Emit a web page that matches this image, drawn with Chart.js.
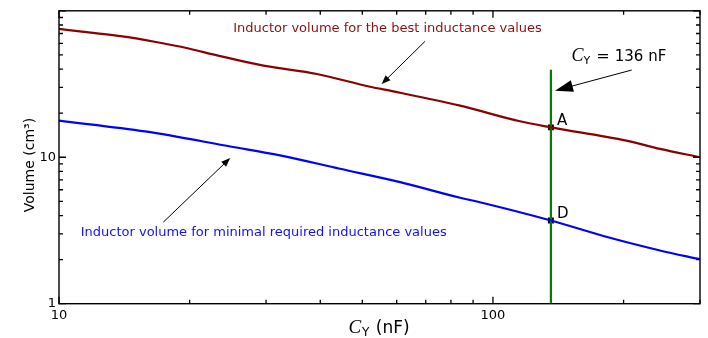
<!DOCTYPE html>
<html>
<head>
<meta charset="utf-8">
<script src="https://cdn.jsdelivr.net/npm/chart.js@4.4.1/dist/chart.umd.min.js"></script>
<style>
  html, body { margin: 0; padding: 0; background: #fff; }
  canvas { display: block; }
</style>
</head>
<body>
<canvas id="myChart" width="708" height="338"></canvas>
<script>
// C_Y in nF, volume in cm^3
const bestX = [10, 11.7, 14, 16.6, 19.9, 22.9, 29.6, 39.3, 52.1, 58.9, 84, 115.4, 136, 203, 242.6, 300];
const bestY = [75.2, 71.2, 66.8, 61.5, 55.3, 50.0, 42.2, 37.0, 30.3, 28.2, 22.5, 17.6, 16.0, 13.0, 11.4, 10.0];

const minX = [10, 15.8, 25, 32.3, 44.4, 61.1, 84, 93.3, 136, 186, 242.6, 300];
const minY = [17.8, 15.0, 11.8, 10.3, 8.34, 6.76, 5.29, 4.93, 3.70, 2.82, 2.31, 2.01];

const cyValue = 136;
const cyLineY = [1, 39.6];
const pointNames = ["A", "D"];
const pointY = [16.0, 3.70];

const xTickMarks = [10, 20, 30, 40, 50, 60, 70, 80, 90, 100, 200, 300];
const yTickMarks = [1, 2, 3, 4, 5, 6, 7, 8, 9, 10, 20, 30, 40, 50, 60, 70, 80, 90, 100];
const xTickLabels = [10, 100];
const yTickLabels = [1, 10];

const FONT = "DejaVu Sans";

// annotation anchors in data coordinates
const notes = {
    best: { text: "Inductor volume for the best inductance values", x: 25.2, y: 75.4, color: "#8b1010" },
    min: { text: "Inductor volume for minimal required inductance values", x: 11.22, y: 3.05, color: "#1010ff" },
    bestArrow: { from: [69.7, 61.8], to: [55.4, 31.6] },
    minArrow: { from: [17.4, 3.61], to: [24.8, 9.87] },
    cyArrow: { from: [208.8, 39.4], to: [139, 28.5] },
    cyText: { x: 151.8, y: 45.3 }
};

function arrow(ctx, x1, y1, x2, y2, len, half) {
    const a = Math.atan2(y2 - y1, x2 - x1);
    const c = Math.cos(a), s = Math.sin(a);
    ctx.beginPath();
    ctx.moveTo(x1, y1);
    ctx.lineTo(x2 - c * len * 0.7, y2 - s * len * 0.7);
    ctx.stroke();
    ctx.beginPath();
    ctx.moveTo(x2, y2);
    ctx.lineTo(x2 - len * c + half * s, y2 - len * s - half * c);
    ctx.lineTo(x2 - len * c - half * s, y2 - len * s + half * c);
    ctx.closePath();
    ctx.fill();
}

const decorations = {
    id: "decorations",
    afterDraw(chart) {
        const ctx = chart.ctx;
        const area = chart.chartArea;
        const xs = chart.scales.x, ys = chart.scales.y;
        const px = v => xs.getPixelForValue(v);
        const py = v => ys.getPixelForValue(v);
        ctx.save();

        // frame
        ctx.strokeStyle = "#000";
        ctx.lineWidth = 1.4;
        ctx.strokeRect(area.left, area.top, area.right - area.left, area.bottom - area.top);

        // inward ticks on all four sides
        ctx.lineWidth = 1.3;
        ctx.beginPath();
        xTickMarks.forEach(v => {
            const len = (v === 10 || v === 100) ? 7 : 4;
            const x = px(v);
            ctx.moveTo(x, area.bottom); ctx.lineTo(x, area.bottom - len);
            ctx.moveTo(x, area.top); ctx.lineTo(x, area.top + len);
        });
        yTickMarks.forEach(v => {
            const len = (v === 1 || v === 10 || v === 100) ? 7 : 4;
            const y = py(v);
            ctx.moveTo(area.left, y); ctx.lineTo(area.left + len, y);
            ctx.moveTo(area.right, y); ctx.lineTo(area.right - len, y);
        });
        ctx.stroke();

        // curve labels
        ctx.font = "13px " + FONT;
        ctx.textBaseline = "middle";
        ctx.textAlign = "left";
        [notes.best, notes.min].forEach(n => {
            ctx.fillStyle = n.color;
            ctx.fillText(n.text, px(n.x), py(n.y));
        });

        // arrows
        ctx.strokeStyle = "#000";
        ctx.fillStyle = "#000";
        ctx.lineWidth = 1;
        [notes.bestArrow, notes.minArrow].forEach(a => {
            arrow(ctx, px(a.from[0]), py(a.from[1]), px(a.to[0]), py(a.to[1]), 9, 3.5);
        });
        arrow(ctx, px(notes.cyArrow.from[0]), py(notes.cyArrow.from[1]),
              px(notes.cyArrow.to[0]), py(notes.cyArrow.to[1]), 18, 6);

        // C_Y = 136 nF
        let tx = px(notes.cyText.x), ty = py(notes.cyText.y);
        ctx.textBaseline = "alphabetic";
        ctx.font = "italic 18px 'Liberation Serif'";
        ctx.fillText("C", tx, ty);
        tx += ctx.measureText("C").width;
        ctx.font = "11px " + FONT;
        ctx.fillText("Y", tx, ty + 3);
        tx += ctx.measureText("Y").width + 6;
        ctx.font = "16px " + FONT;
        ctx.fillText("=", tx, ty);
        tx += ctx.measureText("=").width + 5;
        ctx.font = "15px " + FONT;
        ctx.fillText("136 nF", tx, ty);

        // point labels
        ctx.font = "15px " + FONT;
        ctx.textBaseline = "middle";
        pointNames.forEach((name, i) => {
            ctx.fillText(name, px(cyValue) + 6, py(pointY[i]) - 6);
        });

        // x axis title: C_Y (nF)
        ctx.textBaseline = "alphabetic";
        const parts = [
            { t: "C", f: "italic 19px 'Liberation Serif'", dy: 0 },
            { t: "Y", f: "12px " + FONT, dy: 3 },
            { t: " (nF)", f: "17px " + FONT, dy: 0 }
        ];
        let total = 0;
        parts.forEach(p => { ctx.font = p.f; total += ctx.measureText(p.t).width + 1; });
        let x0 = (area.left + area.right) / 2 - total / 2;
        parts.forEach(p => {
            ctx.font = p.f;
            ctx.fillText(p.t, x0, 333 + p.dy);
            x0 += ctx.measureText(p.t).width + 1;
        });

        // y axis title
        ctx.translate(33.5, 165);
        ctx.rotate(-Math.PI / 2);
        ctx.textAlign = "center";
        ctx.font = "14px " + FONT;
        ctx.fillText("Volume (cm³)", 0, 0);

        ctx.restore();
    }
};

const pairs = (xs, ys) => xs.map((x, i) => ({ x: x, y: ys[i] }));

const data = {
    datasets: [
        {
            label: "Inductor volume for the best inductance values",
            data: pairs(bestX, bestY),
            showLine: true,
            borderColor: "#8b0000",
            borderWidth: 2.2,
            pointRadius: 0,
            cubicInterpolationMode: "monotone"
        },
        {
            label: "Inductor volume for minimal required inductance values",
            data: pairs(minX, minY),
            showLine: true,
            borderColor: "#0000ff",
            borderWidth: 2.2,
            pointRadius: 0,
            cubicInterpolationMode: "monotone"
        },
        {
            label: "C_Y = 136 nF",
            data: cyLineY.map(y => ({ x: cyValue, y: y })),
            showLine: true,
            borderColor: "#008000",
            borderWidth: 2.2,
            pointRadius: 0
        },
        {
            label: "A, D",
            data: pointY.map(y => ({ x: cyValue, y: y })),
            showLine: false,
            pointStyle: "rect",
            pointRadius: 4.2,
            backgroundColor: "#000",
            borderWidth: 0
        }
    ]
};

const config = {
    type: "scatter",
    data: data,
    options: {
        responsive: false,
        animation: false,
        devicePixelRatio: 1,
        layout: { padding: { top: 10, right: 8, left: 0, bottom: 0 } },
        plugins: {
            legend: { display: false },
            tooltip: { enabled: false }
        },
        scales: {
            x: {
                type: "logarithmic",
                min: 10,
                max: 300,
                grid: { display: false, drawTicks: false },
                border: { display: false },
                ticks: {
                    autoSkip: false,
                    maxRotation: 0,
                    padding: 4,
                    color: "#000",
                    font: { family: FONT, size: 13 },
                    callback: v => xTickLabels.some(t => Math.abs(t - v) < 1e-6) ? String(v) : ""
                },
                afterFit: s => { s.height = 34.3; }
            },
            y: {
                type: "logarithmic",
                min: 1,
                max: 100,
                grid: { display: false, drawTicks: false },
                border: { display: false },
                ticks: {
                    autoSkip: false,
                    padding: 3,
                    color: "#000",
                    font: { family: FONT, size: 13 },
                    callback: v => yTickLabels.some(t => Math.abs(t - v) < 1e-6) ? String(v) : ""
                },
                afterFit: s => { s.width = 59; }
            }
        }
    },
    plugins: [decorations]
};

new Chart(document.getElementById("myChart"), config);
</script>
</body>
</html>
